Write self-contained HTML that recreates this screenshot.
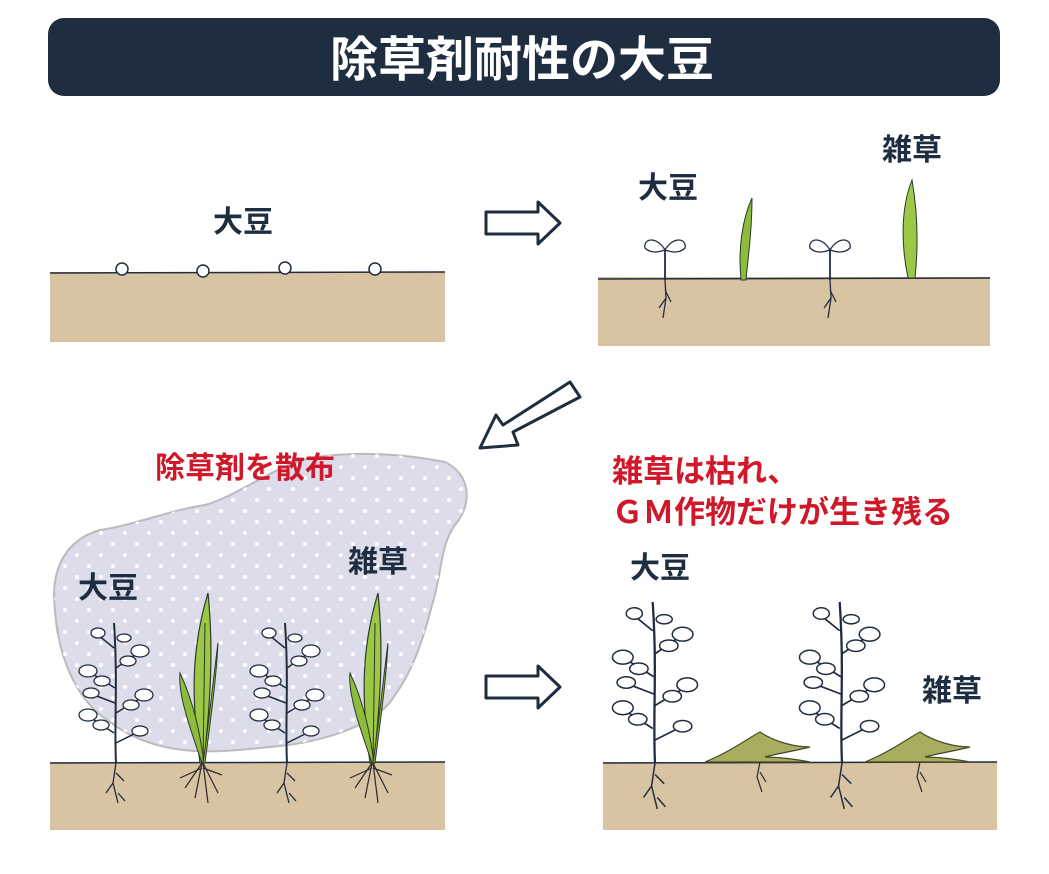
<!DOCTYPE html>
<html><head><meta charset="utf-8"><style>
html,body{margin:0;padding:0;background:#fff;}
body{width:1049px;height:869px;overflow:hidden;font-family:"Liberation Sans","Noto Sans CJK JP",sans-serif;}
</style></head><body>
<svg width="1049" height="869" viewBox="0 0 1049 869" xmlns="http://www.w3.org/2000/svg">
<defs>
<pattern id="dots" width="24" height="22" patternUnits="userSpaceOnUse">
<circle cx="5" cy="5" r="2" fill="#fff"/><circle cx="17" cy="16" r="2" fill="#fff"/>
</pattern>
<g id="soy">
<path d="M0 0 C-2 -40 2 -80 -2 -140" stroke="#1f2d40" stroke-width="2" fill="none"/>
<path d="M-2 -30 L-25 -45 M0 -50 L25 -65 M-1 -75 L-25 -90 M0 -95 L22 -110 M-2 -115 L-18 -128 M0 -20 L20 -30 M-1 -60 L-22 -68" stroke="#1f2d40" stroke-width="1.5" fill="none"/>
<g fill="#fff" stroke="#1f2d40" stroke-width="1.3">
<ellipse cx="-28" cy="-48" rx="9" ry="6"/><ellipse cx="-15" cy="-38" rx="8" ry="5"/>
<ellipse cx="28" cy="-68" rx="9" ry="6"/><ellipse cx="15" cy="-58" rx="8" ry="5"/>
<ellipse cx="-28" cy="-92" rx="9" ry="6"/><ellipse cx="-14" cy="-82" rx="8" ry="5"/>
<ellipse cx="24" cy="-112" rx="9" ry="6"/><ellipse cx="12" cy="-102" rx="8" ry="5"/>
<ellipse cx="-18" cy="-130" rx="7" ry="5"/><ellipse cx="8" cy="-125" rx="7" ry="4"/>
<ellipse cx="24" cy="-32" rx="8" ry="5"/><ellipse cx="-25" cy="-70" rx="8" ry="5"/>
</g>
<path d="M0 0 L-3 20 L2 40 M-3 20 L-10 30 M2 30 L9 38 M0 10 L8 18" stroke="#1f2d40" stroke-width="1.3" fill="none"/>
</g>
<g id="grass">
<path d="M0 0 C-8 -60 -10 -110 8 -170 C14 -110 10 -60 4 0 Z" fill="#9cc845" stroke="#2c3a2a" stroke-width="1.2"/>
<path d="M2 0 C-12 -40 -22 -70 -20 -90 C-6 -60 0 -30 4 0 Z" fill="#8dbb3a" stroke="#2c3a2a" stroke-width="1"/>
<path d="M3 0 C10 -50 14 -90 18 -120 C16 -80 10 -40 5 0 Z" fill="#8dbb3a" stroke="#2c3a2a" stroke-width="1"/>
<path d="M3 0 L5 -140" stroke="#2c3a2a" stroke-width="1"/>
<path d="M2 0 L-15 25 M2 0 L-5 35 M3 0 L8 40 M3 0 L18 30 M2 5 L-20 15 M3 5 L22 12" stroke="#2c2a2a" stroke-width="1.2" fill="none"/>
</g>
<g id="sprout">
<path d="M0 0 L0 -30" stroke="#1f2d40" stroke-width="1.8"/>
<path d="M0 -30 C-8 -44 -22 -42 -20 -32 C-14 -26 -6 -28 0 -30 Z M0 -30 C8 -44 22 -42 20 -32 C14 -26 6 -28 0 -30 Z" fill="#fff" stroke="#1f2d40" stroke-width="1.3"/>
<path d="M0 0 L1 18 L-2 38 M1 18 L-6 28 M0 10 L6 22" stroke="#1f2d40" stroke-width="1.3" fill="none"/>
</g>
<g id="dead">
<path d="M-55 0 C-30 -10 -10 -25 0 -30 C15 -20 35 -15 50 -15 C30 -10 15 -8 5 -5 C20 -5 40 -2 50 0 Z" fill="#a9ad5e" stroke="#44482a" stroke-width="1.2"/>
<path d="M0 0 L-3 15 L2 30 M0 10 L6 20" stroke="#2c2a2a" stroke-width="1.2" fill="none"/>
</g>
</defs>
<rect x="48" y="18" width="952" height="78" rx="16" fill="#1f2d40"/>
<text x="522" y="76" font-size="48" font-weight="bold" fill="#fff" text-anchor="middle">除草剤耐性の大豆</text>

<!-- panel 1 -->
<rect x="50" y="272" width="395" height="70" fill="#d8c3a3"/>
<path d="M50 273 L445 272" stroke="#1f2d40" stroke-width="1.5"/>
<g fill="#fff" stroke="#1f2d40" stroke-width="1.5">
<circle cx="122" cy="269" r="6"/><circle cx="203" cy="271" r="6"/><circle cx="285" cy="268" r="6"/><circle cx="375" cy="269" r="6"/></g>
<text x="243" y="232" font-size="30" font-weight="bold" fill="#1f2d40" text-anchor="middle">大豆</text>

<!-- arrows -->
<path d="M486 212 L538 212 L538 202 L560 223 L538 244 L538 234 L486 234 Z" fill="#fff" stroke="#1f2d40" stroke-width="3" stroke-linejoin="round"/>
<path d="M486 676 L538 676 L538 666 L560 687 L538 708 L538 698 L486 698 Z" fill="#fff" stroke="#1f2d40" stroke-width="3" stroke-linejoin="round"/>
<path d="M570 382 L580 397 L513 432 L518 445 L480 448 L496 415 L503 425 Z" fill="#fff" stroke="#1f2d40" stroke-width="3" stroke-linejoin="round"/>

<!-- panel 2 -->
<rect x="598" y="277" width="392" height="69" fill="#d8c3a3"/>
<path d="M598 279 L990 278" stroke="#1f2d40" stroke-width="1.5"/>
<text x="668" y="198" font-size="30" font-weight="bold" fill="#1f2d40" text-anchor="middle">大豆</text>
<text x="912" y="160" font-size="30" font-weight="bold" fill="#1f2d40" text-anchor="middle">雑草</text>
<use href="#sprout" x="665" y="280"/>
<use href="#sprout" x="830" y="280"/>
<path d="M741 280 C738 250 742 220 752 198 C752 230 748 258 746 280 Z" fill="#8dbb3a" stroke="#2c3a2a" stroke-width="1"/>
<path d="M908 278 C900 240 902 205 912 180 C918 215 918 250 915 278 Z" fill="#9cc845" stroke="#2c3a2a" stroke-width="1"/>

<!-- panel 3 -->
<path d="M55 610 C50 570 65 540 100 530 C135 525 170 510 205 505 C240 495 270 468 310 458 C360 450 410 455 445 462 C472 475 472 505 455 525 C440 545 442 575 432 605 C422 645 410 675 395 695 C380 722 330 742 270 747 C220 752 160 760 110 722 C75 700 58 655 55 610 Z" fill="#dcdcea" stroke="#bbb" stroke-width="2"/>
<path d="M55 610 C50 570 65 540 100 530 C135 525 170 510 205 505 C240 495 270 468 310 458 C360 450 410 455 445 462 C472 475 472 505 455 525 C440 545 442 575 432 605 C422 645 410 675 395 695 C380 722 330 742 270 747 C220 752 160 760 110 722 C75 700 58 655 55 610 Z" fill="url(#dots)"/>
<text x="245" y="478" font-size="30" font-weight="bold" fill="#d0182a" text-anchor="middle">除草剤を散布</text>
<text x="108" y="598" font-size="30" font-weight="bold" fill="#1f2d40" text-anchor="middle">大豆</text>
<text x="378" y="572" font-size="30" font-weight="bold" fill="#1f2d40" text-anchor="middle">雑草</text>
<rect x="50" y="762" width="395" height="68" fill="#d8c3a3"/>
<path d="M50 763 L445 762" stroke="#1f2d40" stroke-width="1.5"/>
<use href="#soy" x="116" y="763"/>
<use href="#soy" x="287" y="763"/>
<use href="#grass" x="200" y="763"/>
<use href="#grass" x="370" y="763"/>

<!-- panel 4 -->
<text x="612" y="482" font-size="31" font-weight="bold" fill="#d0182a">雑草は枯れ、</text>
<text x="612" y="523" font-size="31" font-weight="bold" fill="#d0182a">ＧＭ作物だけが生き残る</text>
<text x="660" y="578" font-size="30" font-weight="bold" fill="#1f2d40" text-anchor="middle">大豆</text>
<text x="952" y="701" font-size="30" font-weight="bold" fill="#1f2d40" text-anchor="middle">雑草</text>
<rect x="603" y="762" width="394" height="68" fill="#d8c3a3"/>
<path d="M603 763 L997 762" stroke="#1f2d40" stroke-width="1.5"/>
<g transform="translate(655 763) scale(1.15)"><use href="#soy"/></g>
<g transform="translate(842 763) scale(1.15)"><use href="#soy"/></g>
<use href="#dead" x="760" y="762"/>
<use href="#dead" x="920" y="762"/>
</svg>
</body></html>
